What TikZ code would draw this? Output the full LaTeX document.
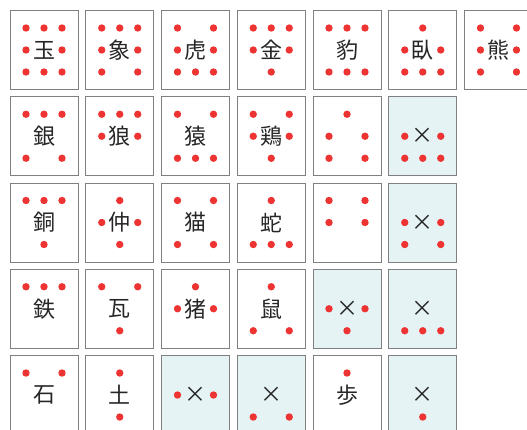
\documentclass[tikz,border=0pt]{standalone}
\usepackage{fontspec}
\newfontfamily\cjk{Noto Sans CJK JP}
\definecolor{tileline}{RGB}{128,128,128}
\definecolor{tileblue}{RGB}{230,243,245}
\definecolor{dotred}{RGB}{238,51,51}

\begin{document}
\begin{tikzpicture}[x=1pt, y=1pt,
    tile/.style={draw=tileline, line width=1pt, fill=#1, minimum width=68pt,
      minimum height=79pt, inner sep=0pt, text=black!85,
      font=\cjk\fontsize{22}{22}\selectfont},
    pip/.style={fill=dotred}]
    % Bildbereich
    \clip (0,0) rectangle (527,-429);
    % Felder mit Punkten: Spalte/Zeile/Zeichen/Farbe/Punkte
    \foreach \c/\r/\t/\f/\d in {
      1/1/玉/white/{-1/1,0/1,1/1,-1/0,1/0,-1/-1,0/-1,1/-1},
      2/1/象/white/{-1/1,0/1,1/1,-1/0,1/0,-1/-1,1/-1},
      3/1/虎/white/{-1/1,1/1,-1/0,1/0,-1/-1,0/-1,1/-1},
      4/1/金/white/{-1/1,0/1,1/1,-1/0,1/0,0/-1},
      5/1/豹/white/{-1/1,0/1,1/1,-1/-1,0/-1,1/-1},
      6/1/臥/white/{0/1,-1/0,1/0,-1/-1,0/-1,1/-1},
      7/1/熊/white/{-1/1,1/1,-1/0,1/0,-1/-1,1/-1},
      1/2/銀/white/{-1/1,0/1,1/1,-1/-1,1/-1},
      2/2/狼/white/{-1/1,0/1,1/1,-1/0,1/0},
      3/2/猿/white/{-1/1,1/1,-1/-1,0/-1,1/-1},
      4/2/鶏/white/{-1/1,1/1,-1/0,1/0,0/-1},
      5/2//white/{0/1,-1/0,1/0,-1/-1,1/-1},
      6/2/×/tileblue/{-1/0,1/0,-1/-1,0/-1,1/-1},
      1/3/銅/white/{-1/1,0/1,1/1,0/-1},
      2/3/仲/white/{0/1,-1/0,1/0,0/-1},
      3/3/猫/white/{-1/1,1/1,-1/-1,1/-1},
      4/3/蛇/white/{0/1,-1/-1,0/-1,1/-1},
      5/3//white/{-1/1,1/1,-1/0,1/0},
      6/3/×/tileblue/{-1/0,1/0,-1/-1,1/-1},
      1/4/鉄/white/{-1/1,0/1,1/1},
      2/4/瓦/white/{-1/1,1/1,0/-1},
      3/4/猪/white/{0/1,-1/0,1/0},
      4/4/鼠/white/{0/1,-1/-1,1/-1},
      5/4/×/tileblue/{-1/0,1/0,0/-1},
      6/4/×/tileblue/{-1/-1,0/-1,1/-1},
      1/5/石/white/{-1/1,1/1},
      2/5/土/white/{0/1,0/-1},
      3/5/×/tileblue/{-1/0,1/0},
      4/5/×/tileblue/{-1/-1,1/-1},
      5/5/歩/white/{0/1},
      6/5/×/tileblue/{0/-1}}{
      \node[tile=\f] (t-\c-\r) at ({44+(\c-1)*75.75}, {-50-(\r-1)*86.25}) {\t};
      \foreach \dx/\dy in \d
        \fill[pip] ([xshift=\dx*18pt, yshift=\dy*22pt]t-\c-\r.center) circle (3.7pt);
    }
\end{tikzpicture}
\end{document}
